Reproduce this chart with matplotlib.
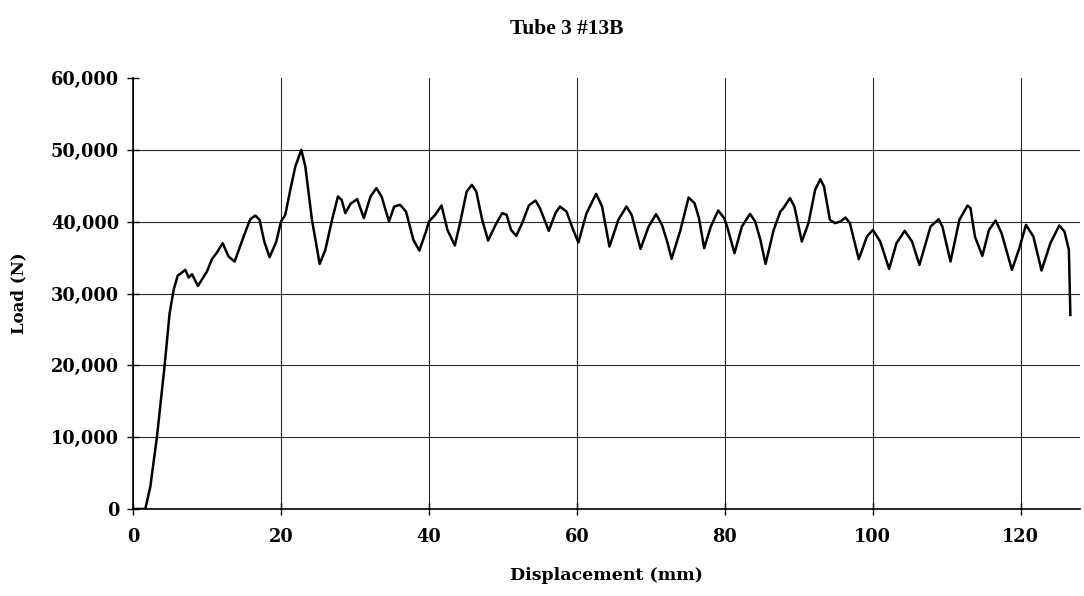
import matplotlib.pyplot as plt
from matplotlib.ticker import FuncFormatter

# Tube 3 #13B - load vs displacement
desplazamiento = [
    0.1, 1.66, 2.34, 3.24, 4.28, 4.95, 5.49, 6.03, 7.07, 7.52, 7.97, 8.78,
    9.99, 10.67, 11.35, 12.11, 12.92, 13.74, 14.95, 15.85, 16.53, 17.11, 17.74,
    18.46, 19.37, 20.0, 20.58, 21.26, 21.94, 22.75, 23.29, 24.19, 25.23, 26.0,
    26.9, 27.7, 28.2, 28.7, 29.4, 30.3, 31.2, 32.1, 32.9, 33.6, 34.6, 35.3,
    36.1, 36.9, 37.9, 38.7, 39.6,
    40.0, 40.85, 41.7, 42.5, 43.5, 44.2, 45.1, 45.8, 46.4, 47.2, 48.0, 49.0,
    49.9, 50.5, 51.1, 51.8, 52.6, 53.5, 54.4, 55.0, 56.2, 57.1, 57.7, 58.6,
    59.5, 60.2, 61.3, 62.6, 63.4, 64.4, 65.6, 66.7, 67.4, 68.6, 69.7, 70.7,
    71.5, 72.2, 72.8, 74.0, 75.1, 75.9, 76.5, 77.2, 78.1, 79.1, 79.9,
    80.3, 81.3, 82.3, 83.4, 84.1, 84.8, 85.5, 86.6, 87.5, 87.9, 88.8, 89.4,
    90.4, 91.3, 92.2, 92.9, 93.4, 94.2, 94.9, 95.6, 96.3, 96.9, 98.1, 99.2,
    100.0, 101.0, 102.2, 103.2, 104.3, 105.3, 106.3, 107.8, 108.9, 109.4,
    110.5, 111.7, 112.8, 113.2, 113.8, 114.8, 115.7, 116.6, 117.4, 118.8,
    119.8, 120.7, 121.7, 122.8, 124.0, 125.2, 125.9, 126.5, 126.7,
]

carga = [
    0, 0, 3100, 10070, 20060, 27260, 30500, 32460, 33290, 32230, 32690, 31060,
    33060, 34780, 35710, 37010, 35150, 34450, 37940, 40350, 40860, 40260, 37240,
    35060, 37240, 40020, 40960, 44440, 47690, 50010, 47690, 40260, 34130, 36080,
    40260, 43510, 43040, 41190, 42490, 43140, 40500, 43510, 44670, 43510, 40020, 42110,
    42350, 41410, 37470, 35980, 38630,
    40020, 40960, 42250, 38860, 36680, 39800, 44200, 45130, 44200, 40260, 37380, 39560,
    41190, 40960, 38860, 38030, 39800, 42250, 42950, 41890, 38730, 41190, 42110, 41410,
    38860, 37100, 41190, 43880, 42110, 36540, 40260, 42110, 40960, 36220, 39330, 41050,
    39560, 37240, 34830, 38860, 43370, 42580, 40500, 36310, 39330, 41560, 40500,
    39330, 35620, 39330, 41090, 40020, 37470, 34130, 38860, 41410, 41890, 43280, 42110,
    37240, 39800, 44440, 45920, 44900, 40260, 39800, 40020, 40580, 39800, 34780, 37930,
    38860, 37240, 33430, 37010, 38730, 37240, 33990, 39330, 40350, 39330,
    34450, 40260, 42250, 41890, 37930, 35240, 38860, 40170, 38400, 33290,
    36310, 39560, 37930, 33200, 37010, 39470, 38630, 36080, 27020,
]

ticks_x = [0, 20, 40, 60, 80, 100, 120]
ticks_y = [0, 10000, 20000, 30000, 40000, 50000, 60000]

fig = plt.figure(figsize=(10.84, 5.96), dpi=100)
ax = fig.add_axes([0.1227, 0.146, 0.8736, 0.723])

ax.plot(desplazamiento, carga, color='black', linewidth=1.8)

ax.set_xlim(0, 128)
ax.set_ylim(0, 60000)
ax.set_xticks(ticks_x)
ax.set_yticks(ticks_y)
ax.yaxis.set_major_formatter(FuncFormatter(lambda v, p: f'{int(v):,}'))

fuente = {'family': 'DejaVu Serif', 'weight': 'bold', 'size': 12.5}
for lbl in ax.get_xticklabels() + ax.get_yticklabels():
    lbl.set_fontfamily('DejaVu Serif')
    lbl.set_fontweight('bold')
    lbl.set_fontsize(12.8)

ax.tick_params(axis='both', direction='inout', length=8, width=1, color='black', pad=6)
ax.tick_params(axis='x', pad=10)

# grid (no line at the top value)
ax.grid(True, color='#2a2a2a', linewidth=0.8)
ax.set_axisbelow(True)
ax.yaxis.get_gridlines()[-1].set_visible(False)

ax.spines['top'].set_visible(False)
ax.spines['right'].set_visible(False)
ax.spines['left'].set_linewidth(1.2)
ax.spines['bottom'].set_linewidth(1.2)

ax.set_xlabel('Displacement (mm)', fontdict=fuente, labelpad=15)
ax.set_ylabel('Load (N)', fontdict={'family': 'DejaVu Serif', 'weight': 'bold', 'size': 12}, labelpad=17)
fig.text(0.523, 0.952, 'Tube 3 #13B', ha='center', va='center',
         family='Liberation Serif', weight='bold', fontsize=15.5)

fig.savefig('out.png', dpi=100)
